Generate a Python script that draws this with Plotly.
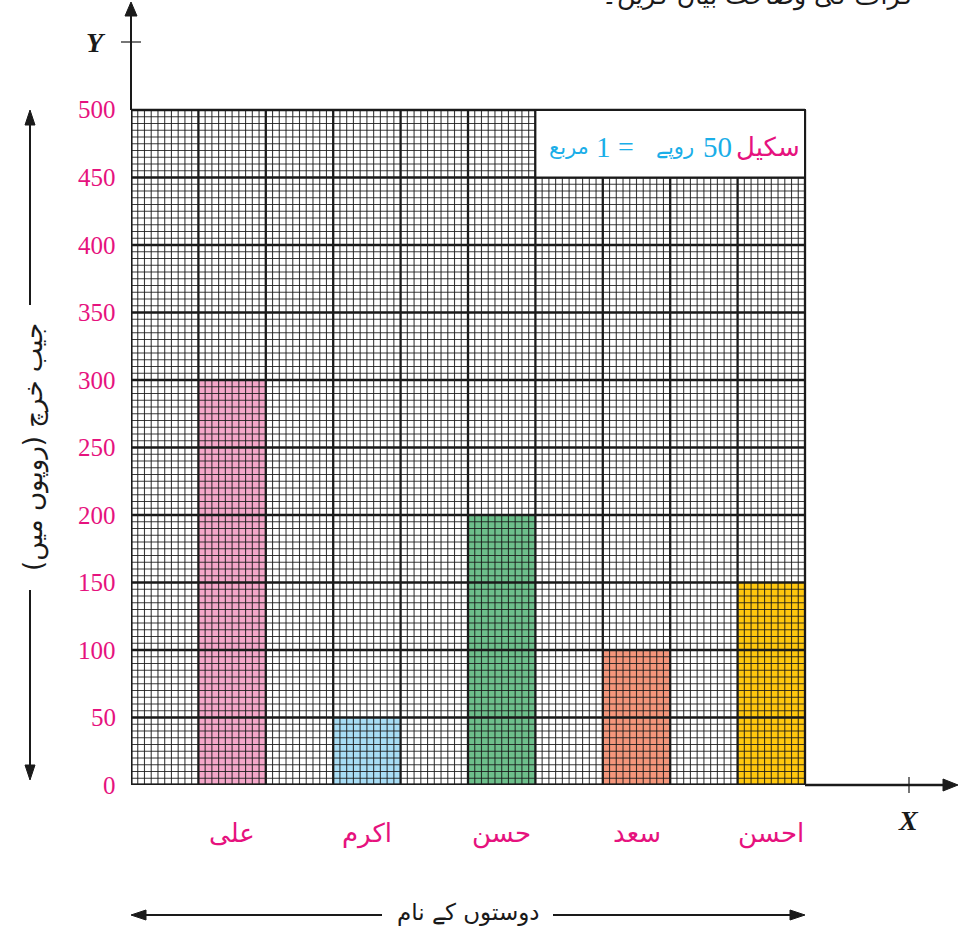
import plotly.graph_objects as go

# ---- data ----
names = ["علی", "اکرم", "حسن", "سعد", "احسن"]
values = [300, 50, 200, 100, 150]
bar_colors = ["#F4A7C9", "#A8DDF5", "#6DBF8B", "#F4967B", "#FFC70E"]
y_ticks = [0, 50, 100, 150, 200, 250, 300, 350, 400, 450, 500]
y_title = "جیب خرچ (روپوں میں)"
x_title = "دوستوں کے نام"
top_text = "گراف کی وضاحت بیان کریں۔"

PINK = "#E6127E"
BLUE = "#1AAEE8"
INK = "#1a1a1a"
URDU = "DejaVu Sans"
SERIF = "Liberation Serif"

W, H = 959, 938
L, R, T, B = 131, 0, 3, 153
ncols = 10
ymax = 500
col_px = 67.4
unit_px = 1.35
xr = (W - L - R) / col_px
yr = (H - T - B) / unit_px


def px(xp):
    return (xp - L) / (W - L - R)


def py(yp):
    return (H - B - yp) / (H - T - B)


fig = go.Figure()

# bars (each friend in every second column)
xpos = [2 * i + 1.5 for i in range(len(names))]
fig.add_trace(go.Bar(x=xpos, y=values, width=1, marker=dict(color=bar_colors, line=dict(width=0)),
                     hoverinfo="skip", showlegend=False))


def lines_trace(xs_v, ys_h, color, width):
    X, Y = [], []
    for xv in xs_v:
        X += [xv, xv, None]
        Y += [0, ymax, None]
    for yv in ys_h:
        X += [0, ncols, None]
        Y += [yv, yv, None]
    return go.Scatter(x=X, y=Y, mode="lines", line=dict(color=color, width=width),
                      hoverinfo="skip", showlegend=False)


minor_x = [i / 10 for i in range(0, ncols * 10 + 1) if i % 10 != 0]
minor_y = [i * 5 for i in range(0, ymax // 5 + 1) if i % 10 != 0]
major_x = list(range(0, ncols + 1))
major_y = y_ticks
fig.add_trace(lines_trace(minor_x, minor_y, "rgba(25,25,25,0.85)", 1.1))
fig.add_trace(lines_trace(major_x, major_y, INK, 2.3))

shapes = []
annotations = []


def line(x0, y0, x1, y1, w=2):
    shapes.append(dict(type="line", xref="paper", yref="paper", x0=px(x0), x1=px(x1), y0=py(y0), y1=py(y1),
                       line=dict(color=INK, width=w)))


def tri(pts):
    p = " L ".join(f"{px(a)} {py(b)}" for a, b in pts)
    shapes.append(dict(type="path", xref="paper", yref="paper", path=f"M {p} Z",
                       fillcolor=INK, line=dict(color=INK, width=1)))


def text(x, y, t, font, xanchor="center", yanchor="middle", angle=0):
    annotations.append(dict(x=px(x), y=py(y), xref="paper", yref="paper", text=t, showarrow=False,
                            xanchor=xanchor, yanchor=yanchor, textangle=angle, font=font))


# outer border (left/bottom thicker)
shapes.append(dict(type="line", xref="x", yref="y", x0=0, x1=0, y0=0, y1=ymax, line=dict(color=INK, width=3)))
shapes.append(dict(type="line", xref="x", yref="y", x0=0, x1=ncols, y0=0, y1=0, line=dict(color=INK, width=3)))

# scale box covering top row on right
shapes.append(dict(type="rect", xref="x", yref="y", x0=6, x1=10, y0=450, y1=500,
                   fillcolor="white", line=dict(color=INK, width=2), layer="above"))

# y axis extension, arrow and tick
line(131, 110, 131, 14, 2)
tri([(125, 16), (131, 2), (137, 16)])
line(121, 42, 141, 42, 1.2)

# x axis extension, arrow and tick
line(805, 785, 946, 785, 2.5)
tri([(943, 779), (958, 785), (943, 791)])
line(909, 777, 909, 793, 1.2)

# y title arrows
line(30, 305, 30, 122, 2)
tri([(25, 125), (30, 110), (35, 125)])
line(30, 590, 30, 768, 2)
tri([(25, 765), (30, 780), (35, 765)])

# x title arrows
line(143, 915, 382, 915, 2)
tri([(146, 910), (131, 915), (146, 920)])
line(553, 915, 793, 915, 2)
tri([(790, 910), (805, 915), (790, 920)])

# y tick labels
for v in y_ticks:
    text(118, 785 - v * unit_px, str(v), dict(family=SERIF, size=25, color=PINK), xanchor="right")

# category labels
for xp, n in zip(xpos, names):
    annotations.append(dict(x=xp, y=py(833), xref="x", yref="paper", text=n, showarrow=False,
                            xanchor="center", yanchor="middle",
                            font=dict(family=URDU, size=26, color=PINK)))

# axis letters
text(96, 42, "Y", dict(family=SERIF, size=28, color=INK, weight="bold", style="italic"))
text(908, 820, "X", dict(family=SERIF, size=28, color=INK, weight="bold", style="italic"))

# titles
text(33, 447, y_title, dict(family=URDU, size=26, color=INK), angle=-90)
text(468, 912, x_title, dict(family=URDU, size=23, color=INK))
text(915, 13, top_text, dict(family=URDU, size=25, color=INK), xanchor="right", yanchor="bottom")

# scale box text pieces (right to left)
scale_parts = [("سکیل", PINK, URDU, 26, 768), ("50", BLUE, SERIF, 29, 717),
               ("روپے", BLUE, URDU, 21, 675), ("=", BLUE, SERIF, 28, 626),
               ("1", BLUE, SERIF, 29, 603), ("مربع", BLUE, URDU, 21, 569)]
for t, c, f, s, xp in scale_parts:
    text(xp, 147, t, dict(family=f, size=s, color=c))

fig.update_layout(
    width=W, height=H,
    margin=dict(l=L, r=R, t=T, b=B, pad=0),
    paper_bgcolor="white", plot_bgcolor="white",
    xaxis=dict(range=[0, xr], visible=False, fixedrange=True),
    yaxis=dict(range=[0, yr], visible=False, fixedrange=True),
    shapes=shapes, annotations=annotations, bargap=0,
)

fig.write_html("out.html", config={"displayModeBar": False},
               post_script="document.body.style.margin='0';document.body.style.overflow='hidden';")
